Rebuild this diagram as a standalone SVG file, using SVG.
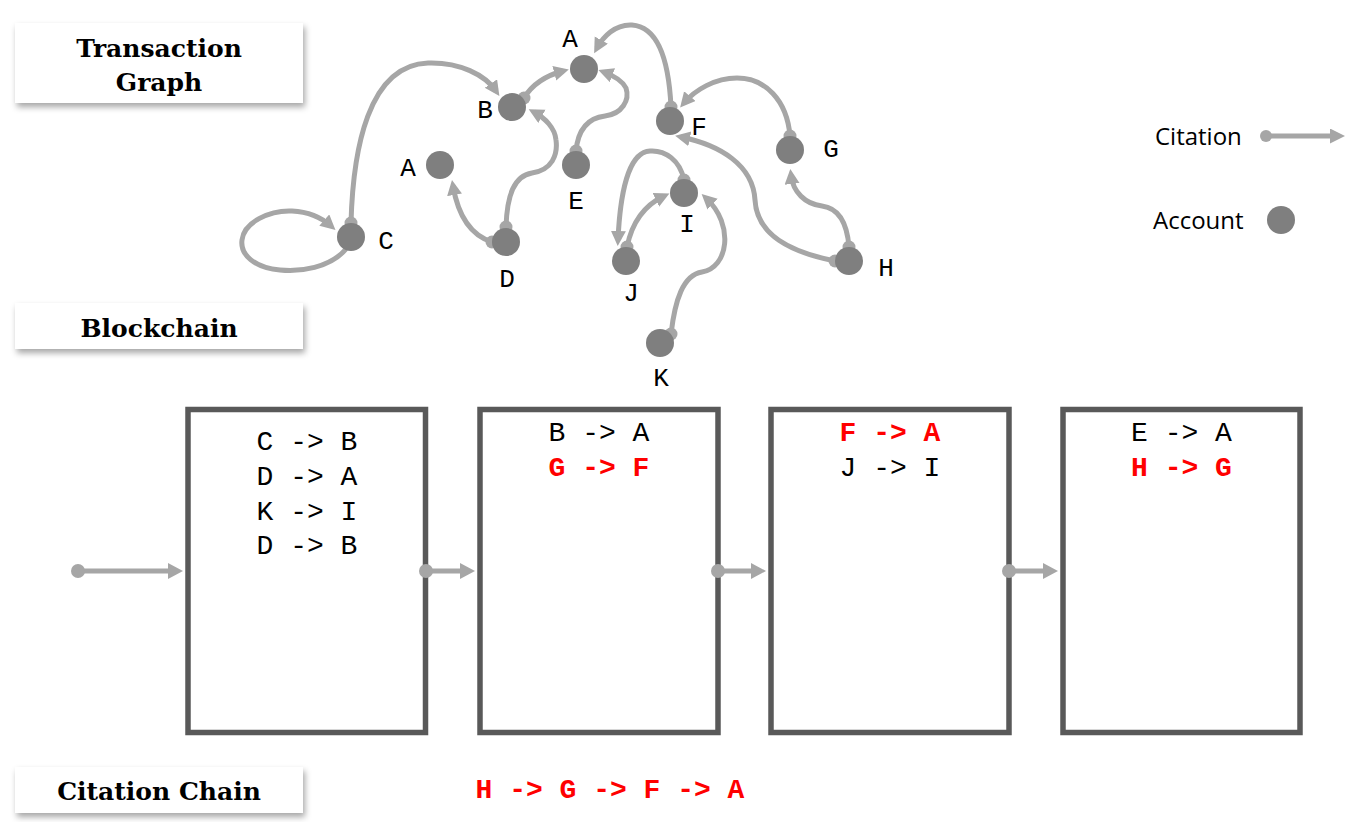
<svg xmlns="http://www.w3.org/2000/svg" width="1372" height="822" viewBox="0 0 1372 822">
<defs>
<style>
.edge{fill:none;stroke:#a6a6a6;stroke-width:5;}
.sdot{fill:#a6a6a6;}
.node{fill:#7f7f7f;}
.nlabel{font-family:"Liberation Mono",monospace;font-size:26px;fill:#000;text-anchor:middle;}
.blk{fill:#fff;stroke:#595959;stroke-width:5.5;}
.btxt{font-family:"Liberation Mono",monospace;font-size:28px;fill:#000;text-anchor:middle;}
.red{fill:#ff0000;font-weight:bold;}
.title{font-family:"DejaVu Serif",serif;font-weight:bold;font-size:25px;fill:#000;text-anchor:middle;}
.tbox{fill:#fff;filter:url(#shadow);}
.legend{font-family:"Open Sans","Noto Sans",sans-serif;font-size:24px;fill:#000;}
</style>
<filter id="shadow" x="-10%" y="-20%" width="125%" height="160%">
<feDropShadow dx="2" dy="4" stdDeviation="3" flood-color="#000" flood-opacity="0.35"/>
</filter>
<marker id="arr" markerUnits="userSpaceOnUse" markerWidth="17" markerHeight="17" refX="9" refY="7.5" orient="auto">
<path d="M0,0 L15,7.5 L0,15 z" fill="#a6a6a6"/>
</marker>
<marker id="arrB" markerUnits="userSpaceOnUse" markerWidth="18" markerHeight="18" refX="9" refY="8" orient="auto">
<path d="M0,0 L15,8 L0,16 z" fill="#a6a6a6"/>
</marker>
</defs>
<rect width="1372" height="822" fill="#fff"/>

<g id="title-transaction-graph">
<rect class="tbox" x="15" y="23" width="288" height="80"/>
<text class="title" x="159" y="57">Transaction</text>
<text class="title" x="159" y="91">Graph</text>
</g>
<g id="title-blockchain">
<rect class="tbox" x="15" y="303" width="288" height="46"/>
<text class="title" x="159" y="337">Blockchain</text>
</g>
<g id="title-citation-chain">
<rect class="tbox" x="15" y="767" width="288" height="46"/>
<text class="title" x="159" y="800">Citation Chain</text>
</g>

<g id="connectors">
<path class="edge" marker-end="url(#arr)" d="M351,223 C353,150 368,65 428,63 C460,62 485,75 496,91"/>
<path class="edge" marker-end="url(#arr)" d="M346,249 C330,268 300,272 280,270 C255,268 240,255 242,240 C244,222 270,210 292,211 C310,212 322,218 331,226"/>
<path class="edge" marker-end="url(#arr)" d="M492,242 C470,235 458,215 453,186"/>
<path class="edge" marker-end="url(#arr)" d="M506,227 C507,195 514,176 532,173 C552,170 558,155 556,140 C555,128 545,118 534,112"/>
<path class="edge" marker-end="url(#arr)" d="M524,98 C533,83 548,75 563,71"/>
<path class="edge" marker-end="url(#arr)" d="M576,151 C578,130 588,118 605,116 C622,114 630,100 626,88 C622,80 612,75 604,72"/>
<path class="edge" marker-end="url(#arr)" d="M671,107 C669,65 660,27 632,25 C615,24 603,37 597,48"/>
<path class="edge" marker-end="url(#arr)" d="M790,136 C787,100 765,78 737,78 C715,78 695,90 684,103"/>
<path class="edge" marker-end="url(#arr)" d="M835,261 C790,252 757,235 755,200 C753,165 720,145 681,137"/>
<path class="edge" marker-end="url(#arr)" d="M849,247 C847,222 838,208 822,206 C805,204 793,192 791,175"/>
<path class="edge" marker-end="url(#arr)" d="M627,247 C632,222 645,205 664,196"/>
<path class="edge" marker-end="url(#arr)" d="M684,180 C680,160 665,150 650,151 C628,152 620,195 618,240"/>
<path class="edge" marker-end="url(#arr)" d="M671,334 C675,300 683,275 702,272 C728,268 735,225 706,198"/>
<circle class="sdot" cx="351" cy="223" r="6.5"/>
<circle class="sdot" cx="492" cy="242" r="6.5"/>
<circle class="sdot" cx="506" cy="227" r="6.5"/>
<circle class="sdot" cx="524" cy="98" r="6.5"/>
<circle class="sdot" cx="576" cy="151" r="6.5"/>
<circle class="sdot" cx="671" cy="107" r="6.5"/>
<circle class="sdot" cx="790" cy="136" r="6.5"/>
<circle class="sdot" cx="835" cy="261" r="6.5"/>
<circle class="sdot" cx="849" cy="247" r="6.5"/>
<circle class="sdot" cx="627" cy="247" r="6.5"/>
<circle class="sdot" cx="684" cy="180" r="6.5"/>
<circle class="sdot" cx="671" cy="334" r="6.5"/>
</g>

<g id="node-A1"><circle class="node" cx="584" cy="69" r="14"/><text class="nlabel" x="570" y="47">A</text></g>
<g id="node-B"><circle class="node" cx="512" cy="107" r="14"/><text class="nlabel" x="485" y="118">B</text></g>
<g id="node-A2"><circle class="node" cx="440" cy="165" r="14"/><text class="nlabel" x="408" y="176">A</text></g>
<g id="node-C"><circle class="node" cx="351" cy="237" r="14"/><text class="nlabel" x="386" y="249">C</text></g>
<g id="node-D"><circle class="node" cx="506" cy="242" r="14"/><text class="nlabel" x="507" y="287">D</text></g>
<g id="node-E"><circle class="node" cx="576" cy="165" r="14"/><text class="nlabel" x="576" y="209">E</text></g>
<g id="node-F"><circle class="node" cx="670" cy="121" r="14"/><text class="nlabel" x="699" y="135">F</text></g>
<g id="node-G"><circle class="node" cx="790" cy="150" r="14"/><text class="nlabel" x="831" y="157">G</text></g>
<g id="node-I"><circle class="node" cx="684" cy="193" r="14"/><text class="nlabel" x="687" y="232">I</text></g>
<g id="node-J"><circle class="node" cx="626" cy="261" r="14"/><text class="nlabel" x="631" y="301">J</text></g>
<g id="node-H"><circle class="node" cx="849" cy="261" r="14"/><text class="nlabel" x="886" y="276">H</text></g>
<g id="node-K"><circle class="node" cx="660" cy="343" r="14"/><text class="nlabel" x="661" y="386">K</text></g>

<g id="legend">
<text class="legend" x="1155" y="145">Citation</text>
<line class="edge" x1="1266" y1="136" x2="1339" y2="136" marker-end="url(#arr)"/>
<circle class="sdot" cx="1266" cy="136" r="6"/>
<text class="legend" x="1153" y="229">Account</text>
<circle class="node" cx="1281" cy="220" r="14"/>
</g>

<g id="block-1">
<rect class="blk" x="188" y="409.5" width="237.5" height="323"/>
<text class="btxt" x="307" y="450">C -&gt; B</text>
<text class="btxt" x="307" y="485">D -&gt; A</text>
<text class="btxt" x="307" y="520">K -&gt; I</text>
<text class="btxt" x="307" y="554">D -&gt; B</text>
</g>
<g id="block-2">
<rect class="blk" x="480" y="409.5" width="238" height="323"/>
<text class="btxt" x="599" y="441">B -&gt; A</text>
<text class="btxt red" x="599" y="476">G -&gt; F</text>
</g>
<g id="block-3">
<rect class="blk" x="771" y="409.5" width="238" height="323"/>
<text class="btxt red" x="890" y="441">F -&gt; A</text>
<text class="btxt" x="890" y="476">J -&gt; I</text>
</g>
<g id="block-4">
<rect class="blk" x="1063" y="409.5" width="237" height="323"/>
<text class="btxt" x="1181.5" y="441">E -&gt; A</text>
<text class="btxt red" x="1181.5" y="476">H -&gt; G</text>
</g>

<g id="chain-connectors">
<line class="edge" x1="78" y1="571" x2="177" y2="571" marker-end="url(#arrB)"/>
<circle class="sdot" cx="78" cy="571" r="7"/>
<line class="edge" x1="426" y1="571" x2="469" y2="571" marker-end="url(#arrB)"/>
<circle class="sdot" cx="426" cy="571" r="7"/>
<line class="edge" x1="718" y1="571" x2="760" y2="571" marker-end="url(#arrB)"/>
<circle class="sdot" cx="718" cy="571" r="7"/>
<line class="edge" x1="1009" y1="571" x2="1052" y2="571" marker-end="url(#arrB)"/>
<circle class="sdot" cx="1009" cy="571" r="7"/>
</g>

<g id="citation-chain">
<text class="btxt red" x="610" y="798">H -&gt; G -&gt; F -&gt; A</text>
</g>
</svg>
